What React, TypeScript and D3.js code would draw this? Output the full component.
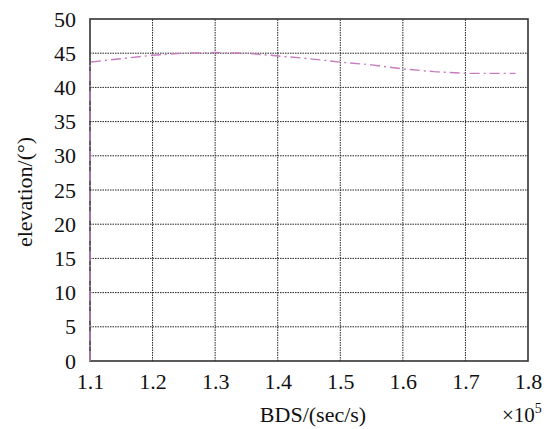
import React, { useEffect, useRef } from 'react';
import * as d3 from 'd3';

// BDS time (x10^5 s) and elevation (deg)
const bdsTime = [1.1, 1.1, 1.15, 1.2, 1.25, 1.3, 1.35, 1.4, 1.45, 1.5, 1.55, 1.6, 1.65, 1.7, 1.75, 1.78];
const elevation = [0, 43.7, 44.2, 44.7, 45.0, 45.1, 45.0, 44.6, 44.2, 43.7, 43.3, 42.7, 42.3, 42.05, 42.05, 42.05];
const xTicks = [1.1, 1.2, 1.3, 1.4, 1.5, 1.6, 1.7, 1.8];
const yTicks = [0, 5, 10, 15, 20, 25, 30, 35, 40, 45, 50];

const App = () => {
  const svgRef = useRef<SVGSVGElement>(null);

  useEffect(() => {
    const svg = d3.select(svgRef.current);
    const margin = { top: 19, right: 22, bottom: 68, left: 90 };
    const width = 550;
    const height = 429;
    const font = '"Liberation Serif", "Times New Roman", serif';

    const x = d3.scaleLinear().domain([1.1, 1.8]).range([margin.left, width - margin.right]);
    const y = d3.scaleLinear().domain([0, 50]).range([height - margin.bottom, margin.top]);

    svg.selectAll('*').remove();

    // grid
    const grid = svg.append('g').attr('stroke', '#222').attr('stroke-width', 1).attr('stroke-dasharray', '1.5,1');
    grid.selectAll('line.v')
      .data(xTicks.slice(1, -1))
      .join('line')
      .attr('x1', (d) => x(d)).attr('x2', (d) => x(d))
      .attr('y1', y(0)).attr('y2', y(50));
    grid.selectAll('line.h')
      .data(yTicks.slice(1, -1))
      .join('line')
      .attr('x1', x(1.1)).attr('x2', x(1.8))
      .attr('y1', (d) => y(d)).attr('y2', (d) => y(d));

    // frame
    svg.append('rect')
      .attr('x', x(1.1)).attr('y', y(50))
      .attr('width', x(1.8) - x(1.1)).attr('height', y(0) - y(50))
      .attr('fill', 'none').attr('stroke', '#333').attr('stroke-width', 1.6);

    const xAxis = svg.append('g')
      .attr('transform', `translate(0,${y(0)})`)
      .call(d3.axisBottom(x).tickValues(xTicks).tickSize(0).tickPadding(12).tickFormat(d3.format('.1f')));
    xAxis.select('.domain').remove();
    xAxis.selectAll('text').attr('font-family', font).attr('font-size', 22).attr('fill', '#111');

    const yAxis = svg.append('g')
      .attr('transform', `translate(${x(1.1)},0)`)
      .call(d3.axisLeft(y).tickValues(yTicks).tickSize(0).tickPadding(14).tickFormat(d3.format('d')));
    yAxis.select('.domain').remove();
    yAxis.selectAll('text').attr('font-family', font).attr('font-size', 22).attr('fill', '#111');

    // series
    const pts = bdsTime.map((t, i) => [t, elevation[i]] as [number, number]);
    const line = d3.line<[number, number]>().x((d) => x(d[0])).y((d) => y(d[1]));
    svg.append('path')
      .datum(pts)
      .attr('fill', 'none')
      .attr('stroke', '#c77cbf')
      .attr('stroke-width', 1.4)
      .attr('stroke-dasharray', '10,4,2,4')
      .attr('d', line);

    // labels
    svg.append('text')
      .attr('x', 313).attr('y', 422)
      .attr('text-anchor', 'middle')
      .attr('font-family', font).attr('font-size', 22).attr('fill', '#111')
      .text('BDS/(sec/s)');

    svg.append('text')
      .attr('transform', 'translate(32,192) rotate(-90)')
      .attr('text-anchor', 'middle')
      .attr('font-family', font).attr('font-size', 22).attr('fill', '#111')
      .text('elevation/(°)');

    const sci = svg.append('text')
      .attr('x', 502).attr('y', 422)
      .attr('font-family', font).attr('font-size', 21).attr('fill', '#111');
    sci.append('tspan').text('×10');
    sci.append('tspan').attr('dy', -9).attr('font-size', 14).text('5');
  }, []);

  return (
    <svg ref={svgRef} width={550} height={429} style={{ position: 'absolute', left: 0, top: 0, background: '#fff' }}></svg>
  );
};

export default App;
